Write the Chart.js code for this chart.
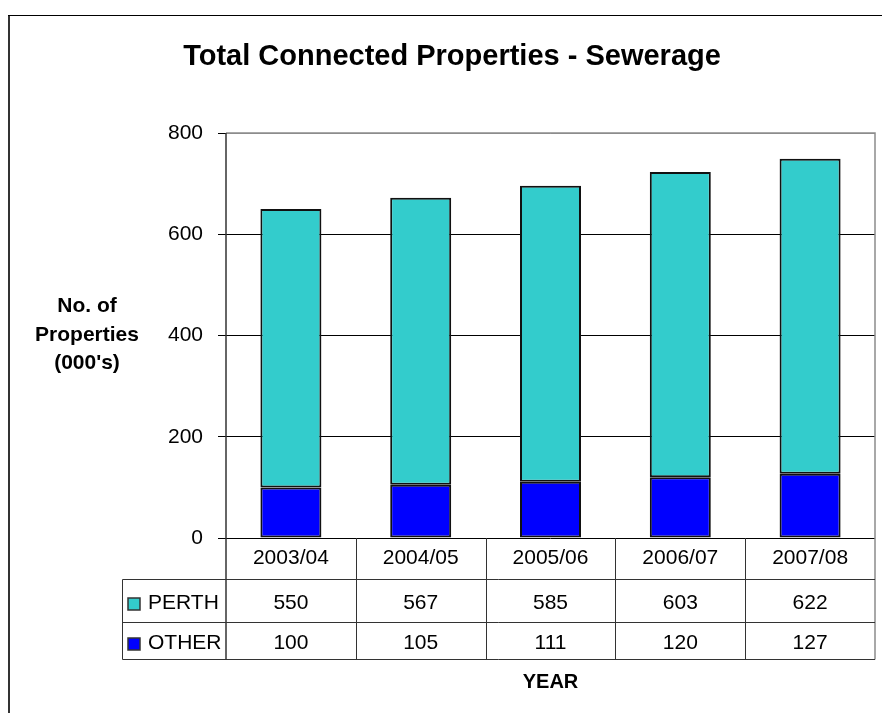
<!DOCTYPE html>
<html>
<head>
<meta charset="utf-8">
<title>Total Connected Properties - Sewerage</title>
<script src="https://cdn.jsdelivr.net/npm/chart.js@4.4.1/dist/chart.umd.min.js"></script>
<style>
    html, body { margin: 0; padding: 0; background: #fff; }
    #sewerChart { display: block; }
</style>
</head>
<body>
<canvas id="sewerChart" width="882" height="713"></canvas>
<script>
const years = ['2003/04', '2004/05', '2005/06', '2006/07', '2007/08'];
const perth = [550, 567, 585, 603, 622];
const other = [100, 105, 111, 120, 127];
const yMin = 0;
const yMax = 800;
const yStep = 200;

const FONT = '"Liberation Sans", Arial, sans-serif';
const PERTH_COLOR = '#33CCCC';
const OTHER_COLOR = '#0000FF';

// frame, titles and the data table under the bars
const tablePlugin = {
    id: 'tablePlugin',
    beforeDraw(chart) {
        const ctx = chart.ctx;
        ctx.save();
        ctx.fillStyle = '#fff';
        ctx.fillRect(0, 0, chart.width, chart.height);
        // outer border (left + top)
        ctx.strokeStyle = '#333';
        ctx.lineWidth = 2;
        ctx.beginPath();
        ctx.moveTo(9, 15);
        ctx.lineTo(9, chart.height);
        ctx.stroke();
        ctx.strokeStyle = '#000';
        ctx.lineWidth = 1;
        ctx.beginPath();
        ctx.moveTo(8, 15.5);
        ctx.lineTo(chart.width, 15.5);
        ctx.stroke();
        ctx.restore();
    },
    afterDraw(chart) {
        const ctx = chart.ctx;
        const area = chart.chartArea;
        const x = chart.scales.x;
        const rowTop = area.bottom;
        const row1 = 579.5, row2 = 622.5, rowEnd = 659.5;
        const legendLeft = 122.5;

        ctx.save();

        // plot frame: top and right in grey, left in dark grey
        ctx.strokeStyle = '#8c8c8c';
        ctx.lineWidth = 1.5;
        ctx.beginPath();
        ctx.moveTo(area.left, area.top);
        ctx.lineTo(area.right, area.top);
        ctx.lineTo(area.right, rowEnd);
        ctx.stroke();

        ctx.strokeStyle = '#333';
        ctx.lineWidth = 1.5;
        ctx.beginPath();
        ctx.moveTo(area.left, area.top);
        ctx.lineTo(area.left, rowEnd);
        ctx.stroke();

        // table grid
        ctx.strokeStyle = '#333';
        ctx.lineWidth = 1;
        ctx.beginPath();
        [row1, row2, rowEnd].forEach(y => {
            ctx.moveTo(legendLeft, y);
            ctx.lineTo(area.right, y);
        });
        ctx.moveTo(legendLeft, row1);
        ctx.lineTo(legendLeft, rowEnd);
        for (let i = 0; i < years.length - 1; i++) {
            const bx = Math.round((x.getPixelForValue(i) + x.getPixelForValue(i + 1)) / 2) + 0.5;
            ctx.moveTo(bx, rowTop);
            ctx.lineTo(bx, rowEnd);
        }
        ctx.stroke();

        // table text
        ctx.fillStyle = '#000';
        ctx.font = '21px ' + FONT;
        ctx.textAlign = 'center';
        ctx.textBaseline = 'alphabetic';
        years.forEach((label, i) => {
            const cx = x.getPixelForValue(i);
            ctx.fillText(label, cx, 564);
            ctx.fillText(String(perth[i]), cx, 609);
            ctx.fillText(String(other[i]), cx, 649);
        });

        // legend keys in the first column
        const rows = [
            { label: 'PERTH', color: PERTH_COLOR, base: 609 },
            { label: 'OTHER', color: OTHER_COLOR, base: 649 }
        ];
        rows.forEach(r => {
            ctx.fillStyle = r.color;
            ctx.fillRect(128, r.base - 11, 12, 12);
            ctx.strokeStyle = '#333';
            ctx.lineWidth = 1.5;
            ctx.strokeRect(128, r.base - 11, 12, 12);
            ctx.fillStyle = '#000';
            ctx.textAlign = 'left';
            ctx.fillText(r.label, 148, r.base);
        });

        // title
        ctx.textAlign = 'center';
        ctx.font = 'bold 29px ' + FONT;
        ctx.fillText('Total Connected Properties - Sewerage', 452, 65);

        // y axis title
        ctx.font = 'bold 21px ' + FONT;
        ctx.fillText('No. of', 87, 312);
        ctx.fillText('Properties', 87, 341);
        ctx.fillText("(000's)", 87, 369);

        // x axis title
        ctx.font = 'bold 20px ' + FONT;
        ctx.fillText('YEAR', (area.left + area.right) / 2, 688);

        ctx.restore();
    }
};

const ctx = document.getElementById('sewerChart').getContext('2d');
new Chart(ctx, {
    type: 'bar',
    data: {
        labels: years,
        datasets: [{
            label: 'OTHER',
            data: other,
            backgroundColor: OTHER_COLOR,
            borderColor: '#111',
            borderWidth: 2,
            borderSkipped: false
        }, {
            label: 'PERTH',
            data: perth,
            backgroundColor: PERTH_COLOR,
            borderColor: '#111',
            borderWidth: 2,
            borderSkipped: false
        }]
    },
    options: {
        responsive: false,
        animation: false,
        categoryPercentage: 1,
        barPercentage: 0.47,
        layout: { padding: { left: 8, top: 133, right: 7, bottom: 175 } },
        plugins: {
            legend: { display: false },
            title: { display: false },
            tooltip: { enabled: false }
        },
        scales: {
            x: {
                stacked: true,
                display: false
            },
            y: {
                stacked: true,
                min: yMin,
                max: yMax,
                afterFit(scale) { scale.width = 218; },
                ticks: {
                    stepSize: yStep,
                    padding: 15,
                    color: '#000',
                    font: { family: FONT, size: 21 }
                },
                grid: {
                    color: c => c.tick && c.tick.value === yMax ? '#8c8c8c' : '#000',
                    tickColor: '#000',
                    tickLength: 8,
                    lineWidth: 1
                },
                border: { display: false }
            }
        }
    },
    plugins: [tablePlugin]
});
</script>
</body>
</html>
